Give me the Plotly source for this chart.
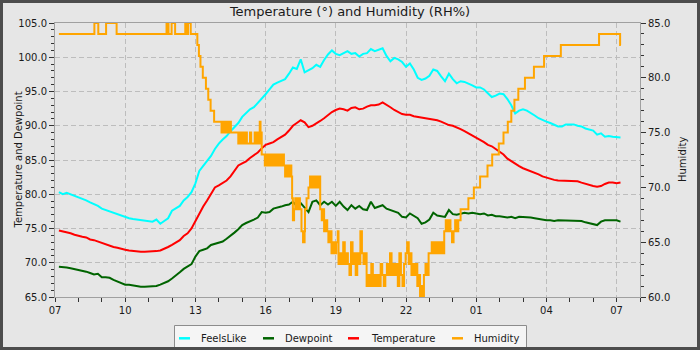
import plotly.graph_objects as go
import pandas as pd

# ---------------- data ----------------
start = "2024-06-01 07:10"
n_points = 145  # 10-minute readings, 07:10 -> 07:10 next day

temperature = [
    74.7, 74.6, 74.5, 74.3, 74.1, 73.9,
    73.8, 73.7, 73.4, 73.3, 73.1, 72.8,
    72.7, 72.5, 72.3, 72.2, 72.0, 71.9,
    71.8, 71.7, 71.6, 71.6, 71.6, 71.6,
    71.6, 71.7, 71.8, 72.0, 72.3, 72.6,
    72.9, 73.3, 73.9, 74.3, 75.0, 76.1,
    77.3, 78.2, 79.1, 80.1, 81.0, 81.3,
    81.6, 82.0, 82.6, 83.5, 84.2, 84.5,
    84.8, 85.3, 85.7, 86.1, 86.7, 87.2,
    87.4, 87.6, 88.0, 88.4, 88.7, 89.3,
    90.0, 90.4, 90.8, 90.5, 89.8, 90.0,
    90.3, 90.7, 91.1, 91.6, 92.0, 92.3,
    92.5, 92.4, 92.2, 92.6, 92.7, 92.4,
    92.5, 92.8, 93.0, 93.0, 93.1, 93.4,
    93.1, 92.7, 92.3, 92.0, 91.7, 91.6,
    91.6, 91.4, 91.3, 91.2, 91.2, 91.0,
    90.9, 90.8, 90.6, 90.3, 90.1, 90.0,
    89.8, 89.5, 89.2, 88.9, 88.6, 88.3,
    87.9, 87.6, 87.2, 87.0, 86.6, 86.2,
    85.8, 85.2, 84.8, 84.4, 84.1, 83.8,
    83.6, 83.4, 83.1, 82.9, 82.6, 82.4,
    82.2, 82.1, 82.0, 82.0, 82.0, 82.0,
    82.0, 81.9, 81.7, 81.5, 81.4, 81.2,
    81.1, 81.2, 81.5, 81.7, 81.7, 81.6,
    81.7,
]

feelslike = [
    80.3, 80.0, 80.2, 80.0, 79.7, 79.5,
    79.3, 79.1, 78.8, 78.6, 78.3, 77.9,
    77.7, 77.5, 77.2, 77.0, 76.8, 76.7,
    76.5, 76.4, 76.3, 76.2, 76.2, 76.0,
    76.0, 76.3, 75.7, 76.1, 76.5, 77.6,
    78.0, 78.3, 79.1, 79.6, 80.3, 81.6,
    83.4, 84.1, 84.8, 85.6, 86.6, 87.4,
    88.0, 88.5, 89.2, 89.8, 90.4, 91.3,
    91.9, 92.4, 92.7, 93.3, 94.0, 94.6,
    95.3, 96.0, 96.3, 96.6, 96.8, 97.6,
    98.5, 98.3, 99.7, 97.8, 98.1, 98.4,
    98.9, 98.6, 99.6, 100.4, 101.0, 100.5,
    100.3, 100.6, 100.9, 100.5, 100.6, 100.1,
    100.5, 100.6, 101.2, 100.9, 101.1, 101.3,
    100.2, 99.4, 99.9, 99.7, 99.3, 98.6,
    99.1, 98.2, 97.0, 96.7, 96.9, 97.3,
    98.2, 98.0, 97.2, 96.5, 97.6, 96.8,
    96.2, 96.5, 96.4, 96.2, 95.9, 95.6,
    95.6, 95.3, 94.7, 94.2, 94.4, 94.7,
    94.6, 93.9, 93.0, 91.8, 92.2, 92.4,
    92.2, 91.9, 91.5, 91.1, 90.8, 90.6,
    90.4, 90.2, 89.9, 89.9, 90.2, 90.2,
    90.2, 90.0, 89.9, 89.6, 89.5, 89.3,
    88.7, 88.9, 88.4, 88.5, 88.4, 88.4,
    88.3,
]

dewpoint = [
    69.4, 69.4, 69.3, 69.2, 69.1, 69.0,
    68.9, 68.7, 68.5, 68.3, 68.4, 67.9,
    67.9, 67.8, 67.5, 67.3, 67.0, 66.8,
    66.8, 66.7, 66.5, 66.5, 66.5, 66.5,
    66.5, 66.6, 66.8, 67.0, 67.3, 67.7,
    68.1, 68.6, 69.1, 69.4, 69.8, 70.9,
    71.7, 71.9, 72.1, 72.6, 72.8, 72.9,
    73.1, 73.5, 73.9, 74.4, 74.9, 75.5,
    75.8, 76.0, 76.3, 76.6, 77.4, 77.3,
    77.4, 77.9, 78.0, 78.2, 78.4, 78.5,
    78.9, 78.3, 78.7, 78.0, 77.4, 78.9,
    79.1, 78.4, 78.9, 78.5, 78.9, 78.3,
    78.9, 78.2, 77.7, 78.4, 77.9, 78.3,
    77.8, 77.7, 78.9, 78.0, 78.2, 78.4,
    77.9, 77.7, 77.4, 77.3, 76.7, 76.6,
    77.2, 76.9, 76.5, 75.7, 75.9, 76.3,
    77.3, 76.9, 76.8, 76.7, 77.7, 77.1,
    77.0, 77.1, 77.3, 77.2, 77.3, 77.2,
    77.1, 77.2, 76.9, 77.0, 76.8, 76.8,
    76.7, 76.6, 76.7, 76.5, 76.7, 76.7,
    76.6, 76.6, 76.5, 76.4, 76.2, 76.2,
    76.2, 76.1, 76.2, 76.2, 76.2, 76.2,
    76.2, 76.2, 76.1, 75.9, 75.8, 75.6,
    75.5, 76.0, 76.2, 76.2, 76.2, 76.2,
    76.0,
]

# humidity change points: (minutes after 07:00, RH %)
humidity_steps = [
    (10, 84), (101, 85), (111, 84), (131, 85), (158, 84), (286, 85), (291, 84),
    (299, 85), (308, 84), (334, 85), (338, 84), (341, 85), (348, 84),
    (365, 83), (369, 82), (373, 81), (379, 80), (387, 79), (393, 78), (399, 77), (408, 76),
    (427, 75), (431, 76), (435, 75), (439, 76), (443, 75), (447, 76), (451, 75),
    (470, 74), (473, 75), (477, 74), (481, 75), (485, 74), (489, 75), (492, 74), (500, 75),
    (503, 74), (512, 75), (515, 74), (519, 75), (523, 74), (525, 76), (527, 75),
    (530, 73), (538, 72), (542, 73), (546, 72), (550, 73), (554, 72), (558, 73), (562, 72),
    (566, 73), (570, 72), (575, 73), (579, 72), (583, 73), (587, 72),
    (590, 71), (594, 72), (598, 71), (602, 72), (606, 71),
    (608, 69), (610, 67), (613, 68), (616, 69), (620, 68), (624, 69), (628, 68), (632, 66),
    (636, 65), (640, 66), (641, 68), (645, 69),
    (650, 70), (654, 71), (658, 70), (662, 71), (666, 70), (670, 71), (674, 70), (678, 71),
    (680, 68), (684, 67), (688, 68), (690, 66), (694, 67), (698, 66), (701, 65), (705, 66),
    (709, 64), (713, 65), (717, 64), (721, 65), (725, 66),
    (727, 63), (731, 64), (735, 63), (739, 65), (743, 63), (747, 64), (751, 63), (755, 62),
    (759, 65), (763, 63), (767, 64), (771, 62), (775, 64), (779, 63), (783, 66), (787, 64),
    (791, 63), (795, 64),
    (799, 61), (803, 62), (807, 61), (811, 63), (815, 61), (819, 62), (823, 61), (827, 62),
    (831, 61), (835, 63), (839, 62), (843, 61),
    (847, 62), (851, 63), (855, 62), (859, 64), (863, 62), (867, 63), (871, 62), (875, 63),
    (879, 61), (883, 64), (887, 62), (891, 61), (895, 63), (899, 64), (903, 65), (907, 63),
    (911, 64),
    (914, 62), (918, 63), (922, 62), (926, 63), (929, 61), (933, 62), (936, 60), (940, 61),
    (944, 60), (946, 62), (950, 63), (954, 62), (958, 64),
    (966, 65), (970, 64), (974, 65), (978, 64), (982, 65), (986, 64), (990, 65), (994, 64),
    (998, 66), (1002, 67), (1006, 66), (1010, 67), (1014, 66), (1018, 65), (1022, 66),
    (1026, 67), (1030, 66), (1034, 67),
    (1040, 68), (1060, 69), (1074, 70), (1090, 71), (1109, 72), (1121, 73), (1138, 74),
    (1150, 75), (1161, 76), (1170, 77), (1178, 78), (1188, 79), (1205, 80), (1228, 81),
    (1254, 82), (1297, 83), (1395, 84), (1449, 83), (1451, 83),
]

series_names = ["FeelsLike", "Dewpoint", "Temperature", "Humidity"]
series_colors = ["#00ffff", "#006400", "#ff0000", "#ffa500"]

x_tick_hours = ["07", "10", "13", "16", "19", "22", "01", "04", "07"]

# ---------------- figure ----------------
base = pd.Timestamp("2024-06-01 07:00")
times = pd.date_range(start, periods=n_points, freq="10min")
hum_times = [base + pd.Timedelta(minutes=m) for m, _ in humidity_steps]
hum_values = [v for _, v in humidity_steps]
tick_times = [base + pd.Timedelta(hours=3 * i) for i in range(len(x_tick_hours))]

W, H = 700, 350
ML, MR, MT, MB = 55, 60, 23, 53
PW, PH = W - ML - MR, H - MT - MB


def px(x):
    return (x - ML) / PW


def py(y):
    return (H - MB - y) / PH


FONT = "DejaVu Sans"
TXT = "#1a1a1a"
BG = "#e6e6e6"

fig = go.Figure()
for name, col, vals in zip(series_names[:3], series_colors[:3], [feelslike, dewpoint, temperature]):
    fig.add_trace(go.Scatter(x=times, y=vals, name=name, mode="lines",
                             line=dict(color=col, width=2), showlegend=False))
fig.add_trace(go.Scatter(x=hum_times, y=hum_values, name=series_names[3], mode="lines",
                         yaxis="y2", line=dict(color=series_colors[3], width=2, shape="hv"),
                         showlegend=False))

grid = dict(showgrid=True, gridcolor="#bdbdbd", griddash="5px,3px", gridwidth=1)
axline = dict(showline=True, linecolor="#a0a0a0", linewidth=1, zeroline=False)

fig.update_layout(
    width=W, height=H,
    margin=dict(l=ML, r=MR, t=MT, b=MB),
    paper_bgcolor=BG, plot_bgcolor=BG,
    font=dict(family=FONT, size=10, color=TXT),
    title=dict(text="Temperature (°) and Humidity (RH%)", x=0.5, xref="container",
               xanchor="center", y=1 - 11 / H, yref="container", yanchor="middle",
               font=dict(family=FONT, size=13, color=TXT)),
    xaxis=dict(type="date", range=[base, base + pd.Timedelta(hours=25)],
               tickmode="array", tickvals=tick_times, ticktext=x_tick_hours,
               ticks="outside", ticklen=4, tickcolor="#333", mirror=True,
               minor=dict(dtick=3600000, tick0=base, ticks="outside", ticklen=4,
                          tickcolor="#333", showgrid=False),
               tickfont=dict(size=10, color=TXT), **grid, **axline),
    yaxis=dict(range=[65, 105], dtick=5, tick0=65, tickformat=".1f",
               ticks="outside", ticklen=5, tickcolor="#333", mirror=True,
               minor=dict(dtick=1, ticks="outside", ticklen=3, tickcolor="#333", showgrid=False),
               tickfont=dict(size=10, color=TXT), **grid, **axline),
    yaxis2=dict(range=[60, 85], dtick=5, tick0=60, tickformat=".1f", overlaying="y",
                side="right", ticks="outside", ticklen=5, tickcolor="#333",
                minor=dict(dtick=1, ticks="outside", ticklen=3, tickcolor="#333", showgrid=False),
                showgrid=False, tickfont=dict(size=10, color=TXT), **axline),
    showlegend=False,
)

annotations = [
    dict(text="Temperature and Dewpoint", x=px(17.5), y=0.5, xref="paper", yref="paper",
         textangle=-90, showarrow=False, xanchor="center", yanchor="middle",
         font=dict(family=FONT, size=10, color=TXT)),
    dict(text="Humidity", x=px(682), y=0.5, xref="paper", yref="paper",
         textangle=-90, showarrow=False, xanchor="center", yanchor="middle",
         font=dict(family=FONT, size=10, color=TXT)),
]
shapes = [
    # outer frame
    dict(type="rect", xref="paper", yref="paper", x0=px(1.5), x1=px(698.5),
         y0=py(348.5), y1=py(1.5), line=dict(color="#4d4d4d", width=3), layer="above"),
    # legend box
    dict(type="rect", xref="paper", yref="paper", x0=px(174.5), x1=px(526.5),
         y0=py(349), y1=py(325.5), line=dict(color="#8c8c8c", width=1),
         fillcolor="#f5f5f5", layer="below"),
]
legend_sym_x = [179, 263, 348, 452]
legend_txt_x = [199, 283, 369, 472]
leg_y = 338.3
for name, col, sx, tx in zip(series_names, series_colors, legend_sym_x, legend_txt_x):
    shapes.append(dict(type="line", xref="paper", yref="paper", x0=px(sx), x1=px(sx + 11),
                       y0=py(leg_y), y1=py(leg_y), line=dict(color=col, width=2.5)))
    annotations.append(dict(text=name, x=px(tx), y=py(leg_y), xref="paper", yref="paper",
                            showarrow=False, xanchor="left", yanchor="middle",
                            font=dict(family=FONT, size=10, color=TXT)))

fig.update_layout(annotations=annotations, shapes=shapes)
fig.write_html("out.html")
